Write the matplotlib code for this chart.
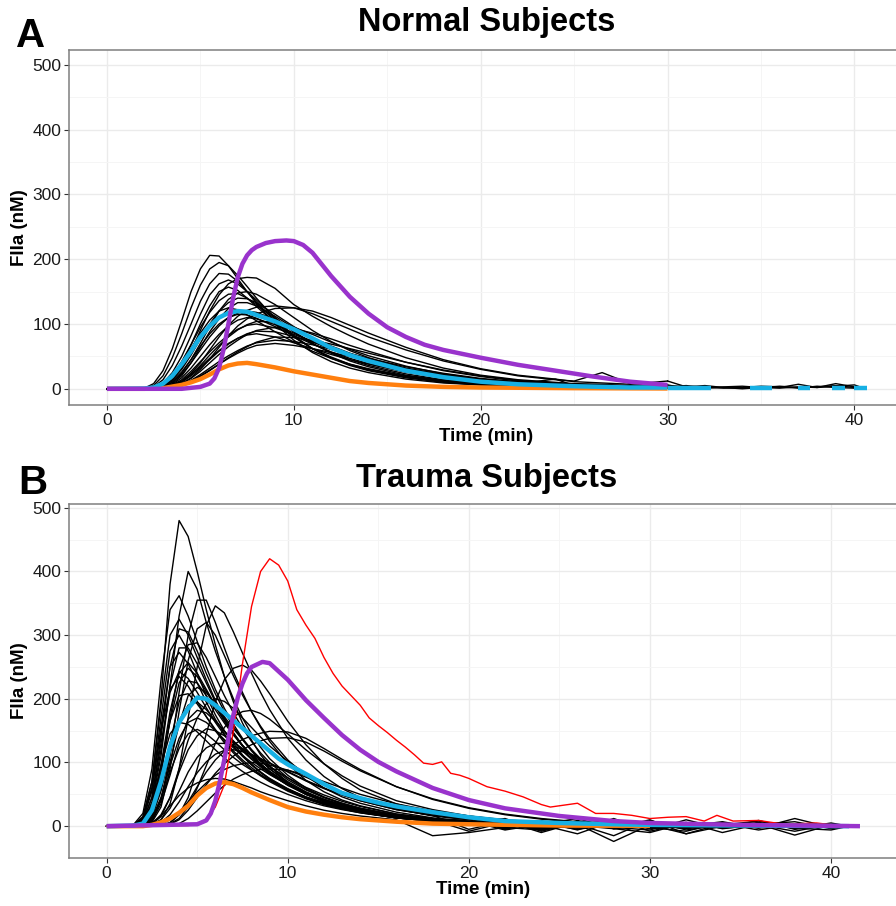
import matplotlib
matplotlib.use("Agg")
import matplotlib.pyplot as plt
from matplotlib.ticker import MultipleLocator

plt.rcParams['font.family'] = ['Liberation Sans', 'DejaVu Sans']

nan = float('nan')

# ---------------- Normal subjects (panel A) ----------------
time_a = [0, 1, 2, 2.5, 3, 3.5, 4, 4.5, 5, 5.5, 6, 6.5, 7, 7.5, 8,
          9, 10, 11, 12, 13, 14, 16, 18, 20, 22,
          24, 25, 26.5, 28, 30]

normal_curves = [
    [0, 0, 1, 8, 28, 62, 105, 150, 185, 206, 205, 190, 170, 150, 132] + [100, 75, 56, 42, 32, 25, 15, 9, 6, 4] + [3, 2, 2, 1, 1],
    [0, 0, 0.5, 5, 20, 48, 85, 125, 160, 185, 195, 190, 175, 158, 140] + [108, 82, 62, 47, 36, 28, 17, 10, 6, 4] + [3, 2, 2, 1, 1],
    [0, 0, 0, 3, 14, 36, 66, 100, 135, 162, 178, 177, 166, 150, 134] + [104, 80, 62, 48, 37, 29, 18, 11, 7, 4] + [3, 3, 2, 2, 1],
    [0, 0, 0, 1, 4, 14, 32, 58, 90, 120, 145, 162, 170, 172, 171] + [155, 130, 112, 96, 82, 69, 48, 32, 21, 14] + [10, 8, 7, 5, 3],
    [0, 0, 0, 2, 9, 25, 50, 82, 115, 145, 162, 168, 162, 150, 137] + [110, 88, 70, 55, 43, 34, 21, 13, 8, 5] + [4, 3, 3, 2, 1],
    [0, 0, 0, 1, 6, 18, 40, 68, 100, 128, 150, 157, 152, 140, 127] + [102, 80, 62, 49, 38, 30, 19, 12, 7, 5] + [4, 3, 2, 1, 1],
    [0, 0, 0, 1, 7, 20, 42, 68, 95, 118, 136, 146, 147, 140, 130] + [108, 88, 70, 56, 45, 36, 23, 14, 9, 6] + [4, 3, 3, 2, 1],
    [0, 0, 0, 1, 5, 14, 30, 52, 77, 100, 120, 133, 140, 139, 133] + [115, 96, 79, 64, 52, 42, 27, 17, 11, 7] + [5, 4, 3, 2, 1],
    [0, 0, 0, 0, 2, 8, 20, 40, 64, 88, 108, 124, 133, 133, 128] + [112, 94, 78, 64, 52, 42, 27, 17, 11, 7] + [5, 4, 3, 2, 1],
    [0, 0, 0, 0, 1, 5, 12, 24, 40, 60, 80, 98, 112, 121, 126] + [128, 125, 116, 104, 92, 80, 60, 43, 30, 20] + [14, 12, 25, 8, 5],
    [0, 0, 0, 0, 0, 3, 8, 17, 30, 46, 64, 82, 97, 108, 116] + [124, 125, 120, 110, 98, 86, 64, 45, 31, 21] + [15, 11, 9, 7, 12],
    [0, 0, 0, 1, 3, 10, 22, 40, 60, 80, 97, 110, 117, 120, 118] + [107, 93, 79, 66, 55, 46, 31, 20, 13, 8] + [6, 5, 4, 3, 2],
    [0, 0, 0, 1, 4, 12, 26, 45, 66, 85, 100, 110, 115, 114, 109] + [96, 82, 69, 57, 47, 39, 26, 17, 11, 7] + [5, 4, 3, 2, 1],
    [0, 0, 0, 0, 2, 7, 17, 32, 50, 68, 84, 97, 106, 110, 108] + [99, 86, 73, 61, 51, 42, 28, 18, 12, 8] + [5, 4, 3, 2, 1],
    [0, 0, 0, 0, 1, 4, 11, 22, 36, 52, 67, 80, 91, 99, 104] + [103, 95, 84, 72, 61, 51, 35, 23, 15, 10] + [7, 6, 5, 3, 2],
    [0, 0, 0, 0, 2, 6, 14, 27, 42, 57, 71, 83, 92, 98, 100] + [94, 84, 73, 62, 52, 44, 30, 20, 13, 8] + [15, 5, 4, 3, 2],
    [0, 0, 0, 0, 0, 3, 8, 16, 27, 40, 53, 65, 75, 84, 90] + [95, 93, 86, 77, 67, 58, 41, 28, 19, 12] + [8, 7, 5, 4, 3],
    [0, 0, 0, 0, 1, 4, 10, 20, 32, 45, 58, 69, 78, 85, 89] + [88, 81, 72, 63, 54, 46, 32, 22, 14, 9] + [6, 5, 4, 3, 2],
    [0, 0, 0, 0, 1, 5, 12, 22, 34, 47, 59, 70, 78, 83, 85] + [80, 71, 62, 53, 45, 38, 26, 17, 11, 7] + [5, 4, 3, 2, 1],
    [0, 0, 0, 0, 0, 1, 5, 11, 19, 28, 38, 48, 57, 65, 72] + [80, 79, 75, 69, 62, 55, 41, 29, 20, 13] + [9, 7, 6, 4, 3],
    [0, 0, 0, 0, 0, 2, 6, 13, 22, 32, 42, 51, 59, 66, 71] + [75, 73, 68, 61, 54, 47, 34, 24, 16, 11] + [7, 6, 5, 3, 2],
    [0, 0, 0, 0, 0, 2, 6, 12, 20, 29, 38, 47, 55, 62, 67] + [70, 67, 62, 56, 50, 43, 31, 22, 15, 10] + [7, 6, 5, 3, 2],
    [0, 0, 0, 1, 6, 18, 38, 62, 86, 106, 120, 125, 122, 114, 105] + [88, 72, 58, 47, 38, 31, 20, 13, 8, 5] + [4, 3, 2, 2, 1],
    [0, 0, 0, 0, 3, 10, 24, 45, 70, 96, 120, 138, 148, 150, 146] + [130, 110, 90, 73, 59, 48, 31, 20, 13, 8] + [6, 5, 4, 3, 2],
]

# runs that were recorded past 30 min
time_a_late = [30, 31, 32, 33, 34, 35, 36, 37, 38, 39, 40, 40.6]
normal_late = [
    [12, 3, 5, 2, 1, 3, 2, 7, 2, 8, 3, 1],
    [5, 2, 1, 3, 4, 2, 1, 3, 2, 4, 6, 0],
    [3, 5, 2, 1, 2, 4, 3, 1, 4, 2, 1, 2],
    [6, 1, 3, 2, 0, 2, 4, 2, 3, 5, 2, 1],
]

model_a_t = [0, 4, 5, 5.5, 5.75, 6, 6.25, 6.5, 6.75, 7, 7.25, 7.5, 7.75, 8, 8.5, 9, 9.6, 10, 10.5, 11,
             12, 13, 14, 15, 16, 17, 18, 20, 22, 24, 26, 28, 30]
model_a_v = [0, 0, 3, 8, 16, 32, 62, 100, 140, 172, 193, 206, 214, 219, 225, 228, 229, 228, 222, 210,
             174, 142, 116, 95, 80, 68, 60, 48, 37, 28, 19, 11, 6]

mean_a_t = [0, 2, 2.5, 3, 3.5, 4, 4.5, 5, 5.5, 6, 6.5, 7, 7.5, 8, 9, 10, 11, 12, 13, 14, 16, 18, 20, 22, 25, 28, 30]
mean_a_v = [0, 0.5, 2, 8, 20, 38, 58, 80, 97, 110, 117, 120, 119, 114, 104, 92, 78, 63, 52, 43, 28, 18, 11, 7, 4, 2, 2]
mean_a_late_t = [30, 31, 32.3, nan, 34.4, 35.6, nan, 37, 37.6, nan, 38.8, 39.5, nan, 40, 40.7]
mean_a_late_v = [2, 2, 2, nan, 2, 2, nan, 2, 2, nan, 2, 2, nan, 2, 2]

low_a_t = [0, 2, 3, 4, 4.5, 5, 5.5, 6, 6.5, 7, 7.5, 8, 9, 10, 11, 12, 13, 14, 16, 18, 20, 25, 30]
low_a_v = [0, 0, 1, 6, 10, 15, 22, 30, 36, 39, 40, 38, 33, 27, 22, 17, 12, 9, 5, 3, 2, 1, 0.5]

# ---------------- Trauma subjects (panel B) ----------------
time_b = [0, 1, 1.5, 2, 2.5, 3, 3.5, 4, 4.5, 5, 5.5, 6, 6.5, 7, 7.5, 8, 8.5, 9,
          10, 11, 12, 13, 14, 16, 18,
          20, 22, 24, 26, 28, 30, 32, 34, 36, 38, 40, 41]

trauma_curves = [
    [0, 0, 2, 15, 70, 200, 380, 480, 455, 400, 340, 285, 235, 195, 162, 135, 112, 95] + [68, 50, 38, 30, 22, 13, 8] + [5, 2, -3, 4, 1, -2, 3, 0, 2, -1, 1, 0],
    [0, 0, 0, 5, 35, 110, 220, 330, 400, 372, 320, 275, 235, 200, 170, 145, 124, 106] + [80, 60, 46, 36, 28, 17, 10] + [6, 3, -6, 9, -4, 5, 0, 7, -3, 2, 0, 0],
    [0, 0, 3, 20, 90, 230, 340, 362, 330, 290, 250, 215, 185, 160, 138, 120, 104, 90] + [68, 52, 40, 32, 25, 15, 9] + [5, 3, -4, 2, 5, 0, -3, 2, 1, 0, 2, 0],
    [0, 0, 0, 1, 8, 40, 110, 210, 300, 355, 355, 320, 280, 242, 210, 180, 155, 133] + [98, 72, 54, 41, 32, 19, 12] + [7, 2, 4, -5, 3, 1, -2, 4, 0, 2, 0, 0],
    [0, 0, 0, 0, 2, 10, 35, 90, 170, 250, 315, 346, 335, 305, 272, 240, 210, 183] + [138, 104, 78, 59, 45, 27, 16] + [10, -4, 8, -6, 12, -8, 5, -3, 9, -5, 2, 0],
    [0, 0, 2, 14, 70, 190, 300, 325, 300, 265, 230, 198, 170, 147, 127, 110, 95, 83] + [64, 50, 40, 32, 26, 16, 10] + [6, 2, 5, -3, 2, -1, 3, 1, 0, 2, -1, 0],
    [0, 0, 1, 8, 45, 140, 250, 310, 305, 275, 240, 208, 180, 156, 136, 118, 103, 90] + [70, 54, 42, 33, 26, 16, 10] + [5, 3, -2, 4, 1, 3, -4, 2, 1, 0, 1, 0],
    [0, 0, 2, 12, 60, 170, 275, 300, 275, 240, 205, 175, 150, 130, 112, 97, 85, 74] + [57, 44, 34, 27, 21, 13, 8] + [5, 1, 3, -2, 4, 0, 2, -1, 3, 0, 0, 0],
    [0, 0, 1, 6, 38, 120, 220, 280, 280, 255, 225, 195, 168, 145, 126, 110, 96, 84] + [65, 50, 39, 31, 25, 15, 9] + [4, 12, -8, 6, -3, 10, -12, 4, -6, 3, -2, 0],
    [0, 0, 2, 10, 55, 155, 250, 273, 255, 225, 195, 168, 145, 126, 110, 96, 84, 74] + [58, 45, 35, 28, 22, 13, 8] + [5, 3, -1, 2, 5, 0, -2, 3, 0, 1, 0, 0],
    [0, 0, 1, 5, 30, 95, 180, 240, 257, 240, 215, 190, 166, 145, 127, 112, 98, 86] + [67, 52, 41, 33, 26, 16, 10] + [6, -2, 3, 1, -4, 2, 0, 4, 1, 0, 2, 0],
    [0, 0, 1, 8, 45, 130, 210, 243, 232, 210, 186, 163, 143, 125, 110, 97, 85, 75] + [59, 46, 36, 29, 23, 14, 8] + [4, 2, 0, 3, -2, 5, 1, -1, 2, 0, 1, 0],
    [0, 0, 0, 4, 25, 85, 165, 225, 248, 235, 212, 188, 165, 145, 127, 111, 97, 85] + [66, 51, 40, 32, 25, 15, 9] + [5, 3, 1, -3, 2, 0, 3, -2, 1, 0, 0, 0],
    [0, 0, 0, 2, 15, 60, 130, 195, 228, 225, 205, 183, 162, 143, 126, 111, 98, 86] + [67, 52, 41, 32, 26, 16, 10] + [-8, 6, 2, -12, 8, -4, 6, -10, 3, 7, -4, 0],
    [0, 0, 0, 1, 10, 42, 100, 160, 205, 218, 210, 192, 172, 153, 136, 120, 106, 94] + [73, 57, 45, 36, 28, 17, 11] + [6, 4, -1, 2, 3, -3, 2, 0, 1, 0, 1, 0],
    [0, 0, 1, 5, 30, 95, 165, 205, 208, 192, 172, 152, 134, 118, 104, 92, 81, 72] + [56, 44, 35, 28, 22, 13, 8] + [4, 2, 3, -2, 1, 4, 0, -1, 2, 0, 0, 0],
    [0, 0, 0, 2, 14, 55, 115, 165, 190, 195, 183, 166, 149, 133, 118, 105, 93, 82] + [65, 51, 40, 32, 25, 15, 9] + [12, -5, 8, 3, -15, 9, -6, 2, 8, -4, 5, 0],
    [0, 0, 0, 1, 8, 35, 80, 130, 168, 182, 178, 165, 149, 134, 120, 107, 95, 85] + [67, 53, 42, 33, 26, 16, 10] + [5, 3, 2, -1, 4, -2, 1, 2, 0, 1, 0, 0],
    [0, 0, 0, 2, 12, 45, 95, 138, 163, 170, 163, 150, 136, 123, 111, 100, 90, 81] + [65, 52, 42, 34, 27, 17, 11] + [6, 2, 0, 3, -1, 1, 2, -3, 1, 0, 0, 0],
    [0, 0, 0, 0, 4, 18, 45, 85, 120, 142, 153, 150, 142, 132, 122, 112, 102, 93] + [76, 61, 49, 39, 31, 19, 12] + [3, 10, -6, 4, 9, -2, -8, 6, -3, 12, -2, 0],
    [0, 0, 0, 2, 12, 42, 85, 122, 145, 152, 145, 133, 120, 108, 97, 88, 80, 72] + [58, 46, 37, 30, 24, 15, 9] + [5, 3, 1, -2, 2, 0, 1, 3, -1, 0, 0, 0],
    [0, 0, 0, 0, 0, 1, 5, 18, 45, 90, 145, 195, 230, 248, 253, 245, 228, 208] + [165, 128, 98, 75, 57, 35, 21] + [13, 7, 4, 2, -3, 3, 1, -2, 2, 0, 1, 0],
    [0, 0, 0, 0, 0, 1, 4, 12, 30, 60, 95, 130, 155, 172, 180, 182, 177, 168] + [145, 120, 98, 79, 63, 40, 26] + [16, 9, 5, 3, 0, 2, -2, 4, 1, 0, 0, 0],
    [0, 0, 0, 0, 0, 1, 6, 18, 38, 62, 85, 104, 118, 128, 136, 142, 146, 149] + [148, 138, 122, 105, 89, 62, 42] + [28, 18, 11, 6, 3, 1, 2, -2, 1, 0, 0, 0],
    [0, 0, 0, 0, 0, 0, 3, 10, 25, 45, 65, 83, 98, 110, 120, 128, 134, 138] + [139, 132, 118, 102, 87, 62, 43] + [29, 19, 12, 7, 4, 2, 0, 1, -1, 0, 1, 0],
    [0, 0, 0, 0, 2, 10, 28, 55, 85, 108, 123, 130, 130, 126, 120, 113, 106, 99] + [85, 71, 59, 49, 40, 26, 17] + [-5, 8, -10, 6, -2, -6, 10, -4, 2, -8, 3, 0],
    [0, 0, 0, 0, 1, 6, 18, 38, 62, 84, 101, 113, 119, 120, 117, 112, 106, 99] + [86, 72, 60, 49, 40, 26, 17] + [11, 6, 3, 1, -2, 2, 0, 1, 0, 0, 1, 0],
    [0, 0, 0, 0, 0, 3, 10, 22, 38, 54, 68, 80, 89, 95, 98, 100, 99, 96] + [88, 77, 65, 54, 44, 29, 19] + [12, 8, 4, 2, 1, -1, 2, 0, 0, 1, 0, 0],
    [0, 0, 0, 1, 5, 16, 32, 48, 60, 68, 73, 75, 74, 70, 65, 60, 54, 49] + [40, 32, 25, 20, 16, 10, -15] + [-10, -2, -6, 3, -24, 2, -12, 0, 3, -14, 2, 0],
    [0, 0, 0, 0, 0, 0, 1, 4, 12, 24, 38, 52, 64, 74, 81, 86, 89, 90] + [88, 80, 70, 60, 50, 35, 24] + [16, 10, 6, 3, 2, 0, 1, -1, 0, 1, 0, 0],
    [0, 0, 1, 6, 32, 95, 145, 163, 160, 148, 134, 120, 107, 96, 86, 77, 69, 62] + [50, 40, 32, 26, 21, 13, 8] + [5, 3, 1, -1, 2, 0, -2, 1, 0, 0, 0, 0],
    [0, 0, 0, 0, 3, 15, 45, 90, 135, 170, 192, 200, 196, 185, 170, 155, 140, 126] + [102, 82, 66, 53, 42, 27, 17] + [11, 6, 4, 1, -2, 3, 0, 2, 0, 1, 0, 0],
    [0, 0, 0, 2, 18, 80, 170, 245, 285, 288, 265, 235, 205, 178, 154, 133, 115, 100] + [76, 58, 45, 35, 28, 17, 10] + [8, -6, 3, 12, -4, -10, 5, -2, 6, -3, -6, 0],
    [0, 0, 0, 1, 6, 30, 90, 180, 260, 310, 320, 300, 268, 236, 206, 180, 157, 137] + [104, 79, 60, 46, 36, 22, 13] + [8, 4, 2, -1, 3, 0, 2, 0, -2, 1, 0, 0],
    [0, 0, 2, 12, 60, 150, 215, 235, 220, 196, 172, 150, 131, 115, 101, 89, 79, 70] + [55, 43, 34, 27, 22, 13, 8] + [5, 2, -2, 3, 1, -1, 0, 2, 1, 0, 0, 0],
]

outlier_b_t = [0, 4.5, 5, 5.5, 6, 6.5, 7, 7.5, 8, 8.5, 9, 9.5, 10, 10.5, 11, 11.5, 12, 12.5, 13, 13.5,
               14, 14.5, 15, 15.5, 16, 16.5, 17, 17.5, 18, 18.5, 19, 19.5, 20, 21, 22, 23, 24, 24.5, 25, 26,
               27, 28, 29, 30, 31, 32, 33, 33.7, 34.6, 36, 37.4, 39.2, 40.1, 41]
outlier_b_v = [0, 1, 4, 10, 30, 65, 150, 255, 345, 400, 420, 410, 385, 340, 316, 295, 265, 240, 220, 205,
               190, 170, 158, 147, 135, 124, 112, 99, 97, 101, 83, 80, 75, 62, 55, 46, 34, 30, 32, 36,
               20, 20, 17, 12, 14, 15, 8, 17, 8, 9, 3, 5, 2, 0]

model_b_t = [0, 5, 5.5, 5.75, 6, 6.25, 6.5, 6.75, 7, 7.25, 7.5, 7.75, 8, 8.6, 9, 10, 11, 12, 13, 14, 15, 16,
             18, 20, 22, 25, 28, 30, 35, 41.6]
model_b_v = [0, 3, 9, 20, 40, 70, 105, 142, 175, 203, 224, 240, 250, 258, 256, 230, 198, 170, 143, 120, 101, 86,
             60, 41, 28, 16, 8, 5, 2, 0]

mean_b_t = [0, 1.5, 2, 2.5, 3, 3.5, 4, 4.5, 5, 5.5, 6, 6.5, 7, 7.5, 8, 8.5, 9, 9.5, 10, 11, 12, 13, 14, 15, 16, 18, 20, 22, 25, 28, 30, 35, 41]
mean_b_v = [0, 1, 4, 25, 70, 125, 163, 185, 202, 200, 190, 178, 166, 154, 142, 130, 118, 106, 97, 82, 66, 52, 44, 37, 31, 22, 14, 8, 5, 3, 2, 1, 0]

low_b_t = [0, 2, 2.5, 3, 3.5, 4, 4.5, 5, 5.5, 6, 6.5, 7, 7.5, 8, 9, 10, 11, 12, 13, 14, 16, 18, 20, 25, 30]
low_b_v = [0, 0, 2, 6, 12, 21, 32, 48, 60, 67, 69, 66, 60, 53, 41, 30, 23, 18, 14, 11, 7, 4, 3, 1, 0.5]

PURPLE = '#9933CC'
BLUE = '#17B0E4'
ORANGE = '#FF7F0E'
THICK = 3.2

W, H = 896, 906
fig = plt.figure(figsize=(W / 100, H / 100), dpi=100)


def panel(left, top, right, bottom):
    return fig.add_axes([left / W, 1 - bottom / H, (right - left) / W, (bottom - top) / H])


def style(ax, xlim, ylim):
    ax.set_xlim(*xlim)
    ax.set_ylim(*ylim)
    ax.xaxis.set_major_locator(MultipleLocator(10))
    ax.xaxis.set_minor_locator(MultipleLocator(5))
    ax.yaxis.set_major_locator(MultipleLocator(100))
    ax.yaxis.set_minor_locator(MultipleLocator(50))
    ax.grid(which='major', color='#EBEBEB', lw=1.0)
    ax.grid(which='minor', color='#F5F5F5', lw=0.7)
    ax.set_axisbelow(True)
    for s in ax.spines.values():
        s.set_color('#7F7F7F')
        s.set_linewidth(1.1)
    ax.tick_params(which='major', length=3.5, width=0.8, color='#333333',
                   labelsize=12.5, labelcolor='#1A1A1A', pad=2)
    ax.tick_params(which='minor', length=0)
    ax.set_xlabel('Time (min)', fontsize=13.5, fontweight='bold', labelpad=0)
    ax.set_ylabel('FIIa (nM)', fontsize=13.5, fontweight='bold', labelpad=3)


axA = panel(69, 50, 903, 405)
axB = panel(69, 504, 898, 858)

# panel A
for vals in normal_curves:
    axA.plot(time_a, vals, color='black', lw=1.0, zorder=2)
for vals in normal_late:
    axA.plot(time_a_late, vals, color='black', lw=1.0, zorder=2)
axA.plot(low_a_t, low_a_v, color=ORANGE, lw=THICK, zorder=3, solid_capstyle='butt')
axA.plot(mean_a_t, mean_a_v, color=BLUE, lw=THICK, zorder=4, solid_capstyle='butt')
axA.plot(mean_a_late_t, mean_a_late_v, color=BLUE, lw=THICK, zorder=4, solid_capstyle='butt')
axA.plot(model_a_t, model_a_v, color=PURPLE, lw=THICK, zorder=5, solid_capstyle='butt')
style(axA, (-2.03, 42.6), (-25, 523))

# panel B
for vals in trauma_curves:
    axB.plot(time_b, vals, color='black', lw=1.0, zorder=2)
axB.plot(outlier_b_t, outlier_b_v, color='red', lw=1.0, zorder=3)
axB.plot(low_b_t, low_b_v, color=ORANGE, lw=THICK, zorder=4, solid_capstyle='butt')
axB.plot(mean_b_t, mean_b_v, color=BLUE, lw=THICK, zorder=5, solid_capstyle='butt')
axB.plot(model_b_t, model_b_v, color=PURPLE, lw=THICK, zorder=6, solid_capstyle='butt')
style(axB, (-2.08, 43.7), (-50, 506))

fig.text(487 / W, 1 - 22 / H, 'Normal Subjects', ha='center', va='center', fontsize=23.5, fontweight='bold')
fig.text(487 / W, 1 - 478 / H, 'Trauma Subjects', ha='center', va='center', fontsize=23.5, fontweight='bold')
fig.text(31 / W, 1 - 36 / H, 'A', ha='center', va='center', fontsize=29, fontweight='bold')
fig.text(33 / W, 1 - 483 / H, 'B', ha='center', va='center', fontsize=29, fontweight='bold')

fig.savefig('out.png', dpi=100)
